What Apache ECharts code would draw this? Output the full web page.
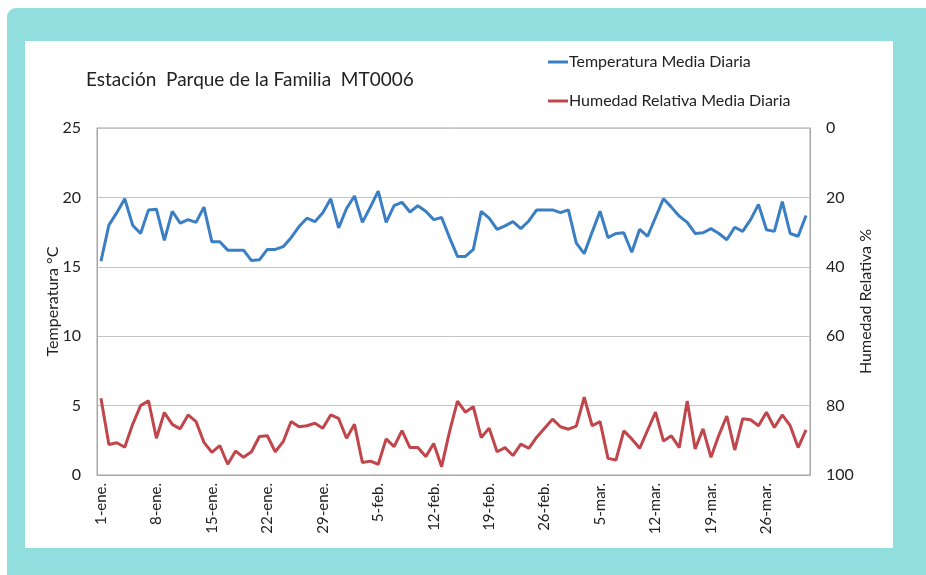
<!DOCTYPE html>
<html>
<head>
<meta charset="utf-8">
<script src="https://cdn.jsdelivr.net/npm/echarts@6/dist/echarts.min.js"></script>
<style>
  html, body { margin: 0; padding: 0; background: #fff; width: 926px; height: 575px; overflow: hidden; }
  #frame { position: absolute; left: 7px; top: 8px; width: 940px; height: 590px; background: #91dede; border-radius: 9px; }
  #panel { position: absolute; left: 25px; top: 41px; width: 868px; height: 507px; background: #fff; }
  #chart { position: absolute; left: 0; top: 0; width: 926px; height: 575px; }
</style>
</head>
<body>
<div id="frame"></div>
<div id="panel"></div>
<div id="chart"></div>
<script>
// meses del periodo (ene-mar)
var monthNames = ['ene.', 'feb.', 'mar.'];
var monthDays = [31, 28, 31];

// Temperatura media diaria (°C), 1-ene. a 31-mar.
var temperatura = [
  15.4, 18.0, 18.9, 19.9, 18.0, 17.4, 19.1, 19.15, 16.9, 19.0,
  18.15, 18.4, 18.2, 19.3, 16.8, 16.8, 16.2, 16.2, 16.2, 15.45,
  15.5, 16.25, 16.25, 16.45, 17.1, 17.9, 18.5, 18.25, 18.9, 19.9,
  17.8, 19.2, 20.1, 18.2, 19.3, 20.45, 18.2, 19.4, 19.65, 18.95,
  19.4, 19.0, 18.4, 18.55, 17.1, 15.75, 15.75, 16.25, 19.0, 18.5,
  17.7, 17.95, 18.25, 17.75, 18.3, 19.1, 19.1, 19.1, 18.9, 19.1,
  16.7, 15.95, 17.5, 19.0, 17.1, 17.4, 17.45, 16.05, 17.7, 17.2,
  18.55, 19.9, 19.3, 18.65, 18.2, 17.4, 17.45, 17.75, 17.4, 16.95,
  17.85, 17.55, 18.4, 19.5, 17.67, 17.55, 19.7, 17.4, 17.2, 18.7
];

// Humedad relativa media diaria (%)
var humedad = [
  77.9, 91.2, 90.7, 92.0, 85.4, 80.0, 78.6, 89.4, 82.0, 85.4,
  86.7, 82.7, 84.6, 90.6, 93.5, 91.5, 96.9, 93.1, 94.9, 93.3,
  88.9, 88.7, 93.3, 90.4, 84.6, 86.1, 85.8, 85.1, 86.5, 82.7,
  83.7, 89.4, 85.4, 96.4, 96.0, 96.9, 89.6, 91.8, 87.2, 92.1,
  92.1, 94.7, 90.9, 97.6, 87.5, 78.7, 81.9, 80.3, 89.2, 86.5,
  93.3, 92.1, 94.4, 91.1, 92.3, 89.1, 86.5, 83.9, 86.1, 86.8,
  85.9, 77.6, 85.8, 84.6, 95.2, 95.7, 87.3, 89.6, 92.3, 87.1,
  81.9, 90.2, 88.7, 92.1, 78.7, 92.5, 86.7, 94.9, 88.5, 83.0,
  92.8, 83.8, 84.1, 85.8, 81.9, 86.3, 82.7, 85.8, 92.1, 87.0
];

var fechas = [];
for (var m = 0; m < monthNames.length; m++) {
  for (var d = 1; d <= monthDays[m]; d++) {
    fechas.push(d + '-' + monthNames[m]);
  }
}

var tempTicks = { min: 0, max: 25, interval: 5 };
var humTicks = { min: 0, max: 100, interval: 20 };

var fontFam = 'Lato, "Open Sans", sans-serif';

var myChart = echarts.init(document.getElementById('chart'), null, { renderer: 'canvas' });

var option = {
  animation: false,
  backgroundColor: 'transparent',
  title: {
    text: 'Estación  Parque de la Familia  MT0006',
    left: 86,
    top: 70,
    padding: 0,
    textStyle: { fontFamily: fontFam, fontSize: 19, fontWeight: 'normal', color: '#222' }
  },
  legend: {
    orient: 'vertical',
    left: 548,
    top: 54,
    padding: 0,
    itemGap: 23,
    itemWidth: 20,
    itemHeight: 3,
    icon: 'rect',
    textStyle: { fontFamily: fontFam, fontSize: 16, color: '#222', padding: [0, 0, 0, -4] },
    data: ['Temperatura Media Diaria', 'Humedad Relativa Media Diaria']
  },
  grid: { left: 97, right: 116, top: 128, bottom: 100, containLabel: false,
    show: true, borderColor: '#a6a6a6', borderWidth: 1 },
  xAxis: {
    type: 'category',
    data: fechas,
    boundaryGap: true,
    axisLine: { lineStyle: { color: '#a6a6a6' } },
    axisTick: { show: false },
    axisLabel: {
      rotate: 90,
      interval: 6,
      margin: 8,
      fontFamily: fontFam,
      fontSize: 15,
      color: '#222'
    }
  },
  yAxis: [
    {
      type: 'value',
      min: tempTicks.min,
      max: tempTicks.max,
      interval: tempTicks.interval,
      name: 'Temperatura °C',
      nameLocation: 'middle',
      nameRotate: 90,
      nameGap: 36,
      nameMoveOverlap: false,
      nameTextStyle: { fontFamily: fontFam, fontSize: 16, color: '#222' },
      axisLine: { show: true, lineStyle: { color: '#a6a6a6' } },
      axisTick: { show: false },
      axisLabel: { margin: 16, fontFamily: fontFam, fontSize: 16, color: '#222' },
      splitLine: { lineStyle: { color: '#c4c4c4', width: 1 } }
    },
    {
      type: 'value',
      min: humTicks.min,
      max: humTicks.max,
      interval: humTicks.interval,
      inverse: true,
      position: 'right',
      name: 'Humedad Relativa %',
      nameLocation: 'middle',
      nameRotate: 90,
      nameGap: 48,
      nameMoveOverlap: false,
      nameTextStyle: { fontFamily: fontFam, fontSize: 16, color: '#222' },
      axisLine: { show: true, lineStyle: { color: '#a6a6a6' } },
      axisTick: { show: false },
      axisLabel: { margin: 16, fontFamily: fontFam, fontSize: 16, color: '#222' },
      splitLine: { show: false }
    }
  ],
  series: [
    {
      name: 'Temperatura Media Diaria',
      type: 'line',
      yAxisIndex: 0,
      data: temperatura,
      showSymbol: false,
      symbol: 'none',
      lineStyle: { color: '#3a7ec3', width: 3 },
      itemStyle: { color: '#3a7ec3' }
    },
    {
      name: 'Humedad Relativa Media Diaria',
      type: 'line',
      yAxisIndex: 1,
      data: humedad,
      showSymbol: false,
      symbol: 'none',
      lineStyle: { color: '#c0464b', width: 3 },
      itemStyle: { color: '#c0464b' }
    }
  ]
};

option && myChart.setOption(option);
</script>
</body>
</html>
